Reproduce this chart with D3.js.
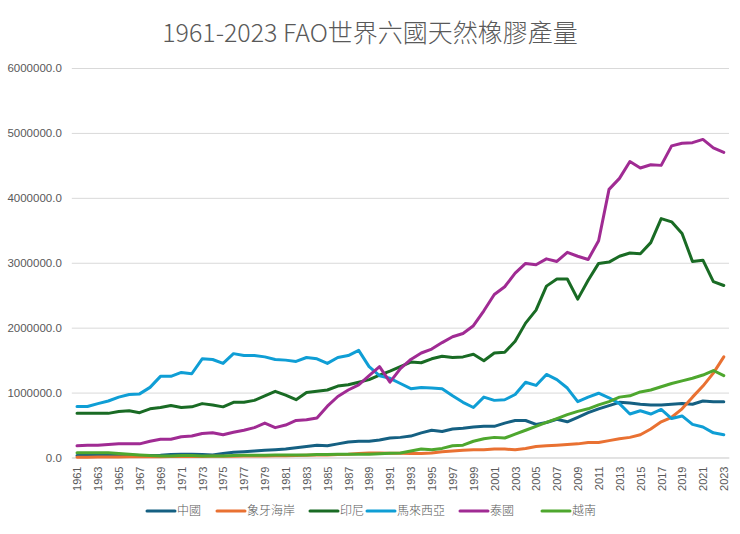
<!DOCTYPE html>
<html>
<head>
<meta charset="utf-8">
<script src="https://cdn.jsdelivr.net/npm/d3@7"></script>
<style>
	body{margin:0;background:#fff;}
	svg text{fill:#595959;}
</style>
</head>
<body>
<svg id="chart" width="740" height="534"></svg>
<script>

var title = "1961-2023 FAO世界六國天然橡膠產量";

var years = d3.range(1961, 2024);

var yTicks = [0, 1000000, 2000000, 3000000, 4000000, 5000000, 6000000];

var seriesNames = ["中國", "象牙海岸", "印尼", "馬來西亞", "泰國", "越南"];
var seriesColors = ["#156082", "#E97132", "#196B24", "#0F9ED5", "#A02B93", "#4EA72E"];

// tonnes
var china = [30000,30000,30000,30000,35000,35000,30000,30000,35000,45000,
	50000,50000,45000,40000,60000,80000,90000,100000,110000,120000,
	130000,150000,170000,190000,180000,210000,240000,250000,250000,270000,
	300000,310000,330000,380000,420000,400000,440000,450000,470000,480000,
	480000,530000,570000,570000,510000,540000,590000,550000,620000,690000,
	750000,800000,850000,840000,820000,810000,810000,820000,830000,820000,
	870000,860000,860000];

var ivoryCoast = [4000,5000,6000,8000,9000,10000,11000,12000,13000,14000,
	15000,16000,17000,18000,18000,20000,22000,24000,25000,26000,
	28000,30000,34000,38000,40000,45000,50000,60000,70000,70000,
	65000,65000,60000,60000,70000,90000,100000,110000,120000,120000,
	130000,130000,120000,140000,170000,180000,190000,200000,210000,230000,
	230000,260000,290000,310000,350000,440000,550000,620000,750000,930000,
	1100000,1300000,1550000];

var indonesia = [680000,680000,680000,680000,710000,720000,690000,750000,770000,800000,
	770000,780000,830000,810000,780000,850000,850000,880000,950000,1020000,
	960000,890000,1000000,1020000,1040000,1100000,1120000,1160000,1200000,1270000,
	1330000,1400000,1470000,1460000,1520000,1560000,1540000,1550000,1590000,1490000,
	1610000,1620000,1790000,2070000,2270000,2640000,2750000,2750000,2440000,2730000,
	2990000,3010000,3100000,3150000,3140000,3310000,3680000,3630000,3450000,3020000,
	3040000,2710000,2650000];

var malaysia = [785000,785000,830000,870000,930000,970000,980000,1080000,1250000,1250000,
	1310000,1290000,1520000,1510000,1450000,1600000,1570000,1570000,1550000,1510000,
	1500000,1480000,1540000,1520000,1450000,1540000,1570000,1650000,1400000,1260000,
	1220000,1140000,1060000,1080000,1070000,1060000,950000,850000,770000,930000,
	880000,890000,970000,1160000,1110000,1280000,1200000,1070000,860000,930000,
	990000,920000,830000,670000,720000,670000,740000,600000,640000,510000,
	470000,380000,350000];

var thailand = [180000,190000,190000,200000,210000,210000,210000,250000,280000,280000,
	320000,330000,370000,380000,350000,390000,420000,460000,530000,460000,
	500000,570000,580000,610000,790000,940000,1040000,1120000,1260000,1400000,
	1160000,1370000,1510000,1610000,1670000,1770000,1860000,1910000,2030000,2260000,
	2510000,2630000,2840000,2990000,2970000,3060000,3020000,3160000,3100000,3050000,
	3340000,4130000,4300000,4560000,4460000,4510000,4500000,4800000,4840000,4850000,
	4900000,4770000,4700000];

var vietnam = [75000,75000,75000,72000,60000,50000,40000,30000,25000,25000,
	30000,30000,25000,25000,25000,30000,35000,35000,35000,40000,
	40000,40000,40000,45000,45000,50000,50000,50000,50000,58000,
	65000,70000,100000,130000,120000,140000,180000,190000,250000,290000,
	310000,300000,360000,420000,480000,540000,600000,660000,710000,750000,
	810000,860000,930000,950000,1010000,1040000,1090000,1140000,1180000,1220000,
	1270000,1340000,1260000];

var seriesValues = [china, ivoryCoast, indonesia, malaysia, thailand, vietnam];

var svg = d3.select("#chart");

var x = d3.scalePoint()
	.domain(years)
	.range([71.8, 729])
	.padding(0.5);

var y = d3.scaleLinear()
	.domain([0, 6000000])
	.range([457.5, 68]);

// title
svg.append("text")
	.attr("x", 370)
	.attr("y", 42)
	.attr("text-anchor", "middle")
	.style("font-family", "'Noto Sans CJK TC', 'Noto Sans'")
	.style("font-weight", 300)
	.style("font-size", "25px")
	.text(title);

// grid + y labels
var yAxis = d3.axisLeft(y)
	.tickValues(yTicks)
	.tickSize(-(729 - 71.8))
	.tickPadding(10)
	.tickFormat(d3.format(".1f"));

var gy = svg.append("g")
	.attr("transform", "translate(71.8,0)")
	.call(yAxis);
gy.select(".domain").remove();
gy.selectAll(".tick line").attr("stroke", "#d9d9d9").attr("stroke-width", 1);
gy.selectAll(".tick text")
	.style("font-family", "'Liberation Sans Narrow', 'Liberation Sans', sans-serif")
	.style("font-size", "11.5px")
	.attr("fill", "#595959");

// x axis, rotated labels
var xAxis = d3.axisBottom(x)
	.tickValues(years.filter(function(d){ return (d - 1961) % 2 == 0; }))
	.tickSize(0)
	.tickPadding(0);

var gx = svg.append("g")
	.attr("transform", "translate(0,457.5)")
	.call(xAxis);
gx.select(".domain").attr("stroke", "#d9d9d9");
gx.selectAll(".tick text")
	.attr("transform", "rotate(-90)")
	.attr("x", -9)
	.attr("y", 0)
	.attr("dy", "0.35em")
	.attr("text-anchor", "end")
	.style("font-family", "'Liberation Sans', sans-serif")
	.style("font-size", "11px")
	.attr("fill", "#595959");

// lines
var line = d3.line()
	.x(function(d, i){ return x(years[i]); })
	.y(function(d){ return y(d); });

svg.append("g")
	.selectAll("path")
	.data(seriesValues)
	.enter()
	.append("path")
	.attr("d", line)
	.attr("fill", "none")
	.attr("stroke", function(d, i){ return seriesColors[i]; })
	.attr("stroke-width", 3)
	.attr("stroke-linejoin", "round")
	.attr("stroke-linecap", "round");

// legend
var legendX = [147, 217, 310, 367, 460, 542];
var legend = svg.append("g")
	.selectAll("g")
	.data(seriesNames)
	.enter()
	.append("g")
	.attr("transform", function(d, i){ return "translate(" + legendX[i] + ",511)"; });

legend.append("line")
	.attr("x1", 0)
	.attr("x2", 28)
	.attr("stroke", function(d, i){ return seriesColors[i]; })
	.attr("stroke-width", 3)
	.attr("stroke-linecap", "round");

legend.append("text")
	.attr("x", 30)
	.attr("dy", "0.35em")
	.style("font-family", "'Noto Sans CJK TC', sans-serif")
	.style("font-weight", 300)
	.style("font-size", "12px")
	.text(function(d){ return d; });

</script>
</body>
</html>
